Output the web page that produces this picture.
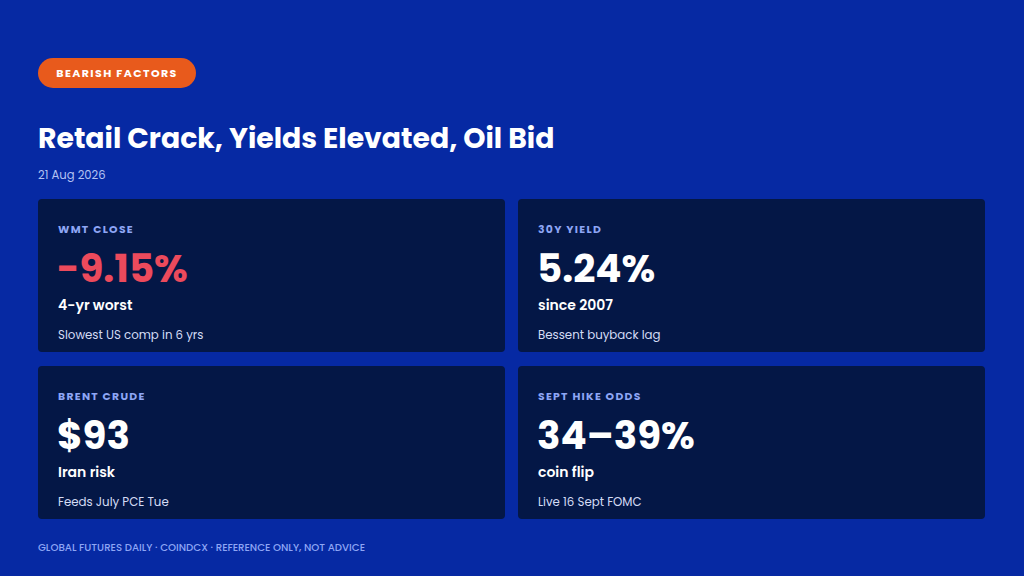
<!DOCTYPE html>
<html>
<head>
<meta charset="utf-8">
<script src="https://cdn.jsdelivr.net/npm/chart.js@4/dist/chart.umd.min.js"></script>
<style>
  html, body { margin: 0; padding: 0; }
  body {
    width: 1024px; height: 576px; overflow: hidden;
    background: #0629a3;
    font-family: "Poppins", "Inter", "Noto Sans", sans-serif;
    color: #ffffff;
    position: relative;
  }
  .pill {
    position: absolute; left: 38px; top: 58px; width: 158px; height: 30px;
    border-radius: 15px; background: #e85a1c;
    font-size: 11px; font-weight: 700; letter-spacing: 1.4px;
    line-height: 30px; text-align: center; color: #fff;
  }
  h1 {
    position: absolute; left: 38px; top: 117px; margin: 0;
    font-size: 28.3px; font-weight: 700; white-space: nowrap;
  }
  .date { position: absolute; left: 38px; top: 167px; font-size: 11.6px; color: #b3c2f2; }
  .card {
    position: absolute; width: 467px; height: 153px;
    background: #041746; border-radius: 4px;
  }
  .card .lbl { position: absolute; left: 20px; top: 23px; font-size: 10.8px; font-weight: 700; letter-spacing: 1.3px; color: #8ea6f5; }
  .card .val { position: absolute; left: 19px; top: 46px; font-size: 38.8px; font-weight: 700; line-height: 48px; }
  .card .sub { position: absolute; left: 20px; top: 96px; font-size: 14px; font-weight: 600; }
  .card .note { position: absolute; left: 20px; top: 128px; font-size: 11.8px; color: #d4dcf5; }
  .foot { position: absolute; left: 38px; top: 540px; font-size: 10.2px; font-weight: 500; color: #8ea6f5; }
</style>
</head>
<body>
<div class="pill">BEARISH FACTORS</div>
<h1>Retail Crack, Yields Elevated, Oil Bid</h1>
<div class="date">21 Aug 2026</div>
<div id="cards"></div>
<div class="foot">GLOBAL FUTURES DAILY · COINDCX · REFERENCE ONLY, NOT ADVICE</div>
<script>
var labels = ["WMT CLOSE", "30Y YIELD", "BRENT CRUDE", "SEPT HIKE ODDS"];
var values = ["-9.15%", "5.24%", "$93", "34–39%"];
var subs = ["4-yr worst", "since 2007", "Iran risk", "coin flip"];
var notes = ["Slowest US comp in 6 yrs", "Bessent buyback lag", "Feeds July PCE Tue", "Live 16 Sept FOMC"];
var valueColors = ["#ec4a5c", "#ffffff", "#ffffff", "#ffffff"];

var lefts = [38, 518], tops = [199, 366];
var box = document.getElementById("cards");
labels.forEach(function (l, i) {
  var c = document.createElement("div");
  c.className = "card";
  c.style.left = lefts[i % 2] + "px";
  c.style.top = tops[Math.floor(i / 2)] + "px";
  c.innerHTML = '<div class="lbl">' + l + '</div>' +
    '<div class="val" style="color:' + valueColors[i] + '">' + values[i] + '</div>' +
    '<div class="sub">' + subs[i] + '</div>' +
    '<div class="note">' + notes[i] + '</div>';
  box.appendChild(c);
});
</script>
</body>
</html>
